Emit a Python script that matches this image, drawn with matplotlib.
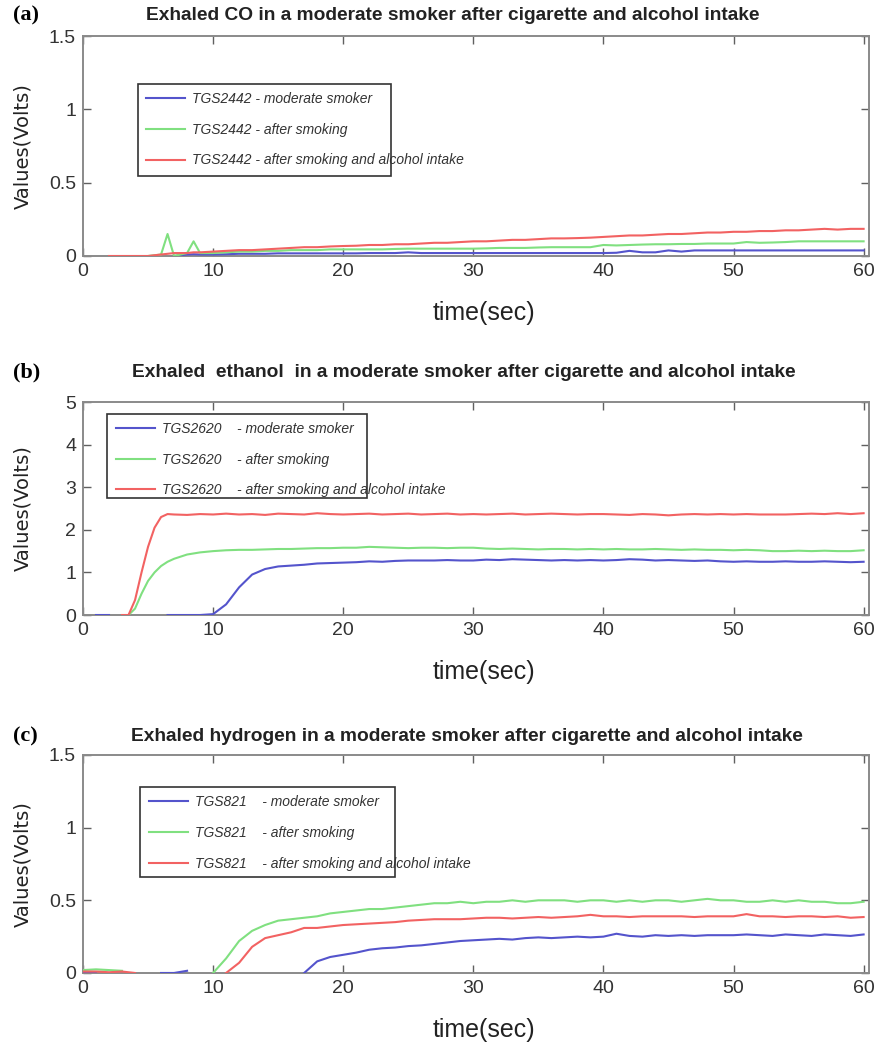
import numpy as np
import matplotlib.pyplot as plt
from matplotlib.patches import Rectangle

nan = np.nan

# ---------------- data ----------------
# (a) exhaled CO, TGS2442
t_a = [0, 1, 2, 3, 4, 5, 6, 6.5, 7, 8, 8.5, 9] + list(range(10, 61))
co_moderate = [nan, nan, nan, nan, nan, nan, nan, nan, 0.0, 0.01, 0.012, 0.01,
               0.01, 0.012, 0.015, 0.015, 0.015, 0.018, 0.018, 0.018, 0.018, 0.018,
               0.018, 0.018, 0.02, 0.02, 0.02, 0.025, 0.02, 0.02, 0.02, 0.02,
               0.02, 0.02, 0.02, 0.02, 0.02, 0.02, 0.02, 0.02, 0.02, 0.02,
               0.02, 0.022, 0.035, 0.025, 0.025, 0.038, 0.03, 0.038, 0.038, 0.038,
               0.038, 0.038, 0.038, 0.038, 0.038, 0.038, 0.038, 0.038, 0.038, 0.038, 0.038]
co_smoking = [0.01, nan, nan, nan, nan, 0.0, 0.01, 0.15, 0.0, 0.02, 0.10, 0.02,
              0.02, 0.025, 0.03, 0.03, 0.035, 0.035, 0.04, 0.04, 0.04, 0.045,
              0.045, 0.045, 0.045, 0.045, 0.048, 0.05, 0.05, 0.05, 0.05, 0.05,
              0.05, 0.052, 0.055, 0.055, 0.055, 0.058, 0.06, 0.06, 0.06, 0.06,
              0.075, 0.072, 0.075, 0.078, 0.08, 0.08, 0.082, 0.082, 0.085, 0.085,
              0.085, 0.095, 0.09, 0.092, 0.095, 0.1, 0.1, 0.1, 0.1, 0.1, 0.1]
co_alcohol = [nan, nan, 0.0, 0.0, 0.0, 0.0, 0.01, 0.015, 0.02, 0.02, 0.025, 0.025,
              0.03, 0.035, 0.04, 0.04, 0.045, 0.05, 0.055, 0.06, 0.06, 0.065,
              0.068, 0.07, 0.075, 0.075, 0.08, 0.08, 0.085, 0.09, 0.09, 0.095,
              0.1, 0.1, 0.105, 0.11, 0.11, 0.115, 0.12, 0.12, 0.122, 0.125,
              0.13, 0.135, 0.14, 0.14, 0.145, 0.15, 0.15, 0.155, 0.16, 0.16,
              0.165, 0.165, 0.17, 0.17, 0.175, 0.175, 0.18, 0.185, 0.18, 0.185, 0.185]

# (b) exhaled ethanol, TGS2620
t_b = [0, 1, 2, 3, 3.5, 4, 4.5, 5, 5.5, 6, 6.5] + list(range(7, 61))
eth_moderate = [nan, 0.0, 0.0, nan, nan, nan, nan, nan, nan, nan, 0.0,
                0.0, 0.0, 0.0, 0.02, 0.25, 0.65, 0.95, 1.08, 1.14, 1.16,
                1.18, 1.21, 1.22, 1.23, 1.24, 1.26, 1.25, 1.27, 1.28, 1.28,
                1.28, 1.29, 1.28, 1.28, 1.3, 1.29, 1.31, 1.3, 1.29, 1.28,
                1.29, 1.28, 1.29, 1.28, 1.29, 1.31, 1.3, 1.28, 1.29, 1.28,
                1.27, 1.28, 1.26, 1.25, 1.26, 1.25, 1.25, 1.26, 1.25, 1.25,
                1.26, 1.25, 1.24, 1.25]
eth_smoking = [0.0, nan, nan, nan, 0.0, 0.15, 0.5, 0.8, 1.0, 1.15, 1.25,
               1.32, 1.42, 1.47, 1.5, 1.52, 1.53, 1.53, 1.54, 1.55, 1.55,
               1.56, 1.57, 1.57, 1.58, 1.58, 1.6, 1.59, 1.58, 1.57, 1.58,
               1.58, 1.57, 1.58, 1.58, 1.56, 1.55, 1.56, 1.55, 1.54, 1.55,
               1.55, 1.54, 1.55, 1.54, 1.55, 1.54, 1.54, 1.55, 1.54, 1.53,
               1.54, 1.53, 1.53, 1.52, 1.53, 1.52, 1.5, 1.5, 1.51, 1.5,
               1.51, 1.5, 1.5, 1.52]
eth_alcohol = [nan, nan, nan, 0.0, 0.0, 0.35, 1.0, 1.6, 2.05, 2.3, 2.37,
               2.36, 2.35, 2.37, 2.36, 2.38, 2.36, 2.37, 2.35, 2.38, 2.37,
               2.36, 2.39, 2.37, 2.36, 2.37, 2.38, 2.36, 2.37, 2.38, 2.36,
               2.37, 2.38, 2.36, 2.37, 2.36, 2.37, 2.38, 2.36, 2.37, 2.38,
               2.37, 2.36, 2.37, 2.37, 2.36, 2.35, 2.37, 2.36, 2.34, 2.36,
               2.37, 2.36, 2.37, 2.36, 2.37, 2.36, 2.36, 2.36, 2.37, 2.38,
               2.37, 2.39, 2.37, 2.39]

# (c) exhaled hydrogen, TGS821
t_c = list(range(0, 61))
h2_moderate = [0.005, 0.0, nan, nan, 0.0, nan, 0.0, 0.0, 0.015, nan,
               nan, nan, nan, nan, nan, nan, nan, 0.0, 0.08, 0.11,
               0.125, 0.14, 0.16, 0.17, 0.175, 0.185, 0.19, 0.2, 0.21, 0.22,
               0.225, 0.23, 0.235, 0.23, 0.24, 0.245, 0.24, 0.245, 0.25, 0.245,
               0.25, 0.27, 0.255, 0.25, 0.26, 0.255, 0.26, 0.255, 0.26, 0.26,
               0.26, 0.265, 0.26, 0.255, 0.265, 0.26, 0.255, 0.265, 0.26, 0.255, 0.265]
h2_smoking = [0.02, 0.025, 0.02, 0.015, nan, nan, nan, nan, nan, nan,
              0.0, 0.1, 0.22, 0.29, 0.33, 0.36, 0.37, 0.38, 0.39, 0.41,
              0.42, 0.43, 0.44, 0.44, 0.45, 0.46, 0.47, 0.48, 0.48, 0.49,
              0.48, 0.49, 0.49, 0.5, 0.49, 0.5, 0.5, 0.5, 0.49, 0.5,
              0.5, 0.49, 0.5, 0.49, 0.5, 0.5, 0.49, 0.5, 0.51, 0.5,
              0.5, 0.49, 0.49, 0.5, 0.49, 0.5, 0.49, 0.49, 0.48, 0.48, 0.49]
h2_alcohol = [0.01, 0.01, 0.005, 0.01, 0.0, nan, nan, nan, nan, nan,
              nan, 0.0, 0.07, 0.18, 0.24, 0.26, 0.28, 0.31, 0.31, 0.32,
              0.33, 0.335, 0.34, 0.345, 0.35, 0.36, 0.365, 0.37, 0.37, 0.37,
              0.375, 0.38, 0.38, 0.375, 0.38, 0.385, 0.38, 0.385, 0.39, 0.4,
              0.39, 0.39, 0.385, 0.39, 0.39, 0.39, 0.39, 0.385, 0.39, 0.39,
              0.39, 0.405, 0.39, 0.39, 0.385, 0.39, 0.39, 0.385, 0.39, 0.38, 0.385]

panel_tags = ['(a)', '(b)', '(c)']
titles = ['Exhaled CO in a moderate smoker after cigarette and alcohol intake',
          'Exhaled  ethanol  in a moderate smoker after cigarette and alcohol intake',
          'Exhaled hydrogen in a moderate smoker after cigarette and alcohol intake']
legend_a = ['TGS2442 - moderate smoker', 'TGS2442 - after smoking',
            'TGS2442 - after smoking and alcohol intake']
legend_b = ['TGS2620    - moderate smoker', 'TGS2620    - after smoking',
            'TGS2620    - after smoking and alcohol intake']
legend_c = ['TGS821    - moderate smoker', 'TGS821    - after smoking',
            'TGS821    - after smoking and alcohol intake']
yticks_a = [0, 0.5, 1, 1.5]
yticks_b = [0, 1, 2, 3, 4, 5]
yticks_c = [0, 0.5, 1, 1.5]
xticks = [0, 10, 20, 30, 40, 50, 60]

colors = ['#5454cc', '#80e080', '#f26262']
sans = ['Liberation Sans', 'DejaVu Sans']

fig = plt.figure(figsize=(8.8, 10.47), dpi=100)

# axes rect, legend frame (x, y, w, h in axes fraction)
panels = [
    (t_a, [co_moderate, co_smoking, co_alcohol], legend_a, yticks_a, 1.5,
     [0.0943, 0.7555, 0.893, 0.2101], (0.0695, 0.365, 0.323, 0.417)),
    (t_b, [eth_moderate, eth_smoking, eth_alcohol], legend_b, yticks_b, 5,
     [0.0943, 0.4126, 0.893, 0.2034], (0.031, 0.55, 0.331, 0.395)),
    (t_c, [h2_moderate, h2_smoking, h2_alcohol], legend_c, yticks_c, 1.5,
     [0.0943, 0.0707, 0.893, 0.2082], (0.073, 0.44, 0.324, 0.413)),
]
tag_y = [0.985, 0.644, 0.297]
title_x = [0.514, 0.527, 0.531]

for i, (t, series, labels, yt, ymax, pos, box) in enumerate(panels):
    ax = fig.add_axes(pos)
    for s, c, lab in zip(series, colors, labels):
        ax.plot(t, s, color=c, lw=1.5, label=lab, zorder=3)
    ax.set_xlim(0, 60.4)
    ax.set_ylim(0, ymax)
    ax.set_xticks(xticks)
    ax.set_yticks(yt)
    ax.set_xticklabels([str(v) for v in xticks], family=sans, fontsize=14)
    ax.set_yticklabels([f'{v:g}' for v in yt], family=sans, fontsize=14)
    ax.tick_params(direction='in', length=6, width=1, color='#606060',
                   top=True, right=True, pad=5, labelcolor='#333333')
    for sp in ax.spines.values():
        sp.set_color('#8a8a8a')
        sp.set_linewidth(1.4)
    ax.set_xlabel('time(sec)', family=sans, fontsize=18, color='#222222')
    ax.xaxis.label.set_va('center')
    ax.xaxis.set_label_coords(0.51, -57 / (pos[3] * 1047))
    ax.set_ylabel('Values(Volts)', fontsize=14, color='#222222')
    ax.yaxis.label.set_va('center')
    ax.yaxis.set_label_coords(-0.076, 0.5)

    # legend frame drawn separately (labels spill past it in the original)
    ax.add_patch(Rectangle((box[0], box[1]), box[2], box[3], transform=ax.transAxes,
                           fill=True, facecolor='white', edgecolor='#333333',
                           lw=1.2, zorder=4))
    leg = ax.legend(loc='upper left',
                    bbox_to_anchor=(box[0] + 0.004, box[1] + box[3] - 0.012),
                    frameon=False,
                    prop={'family': 'Liberation Sans', 'style': 'italic', 'size': 10},
                    handlelength=2.8, handletextpad=0.5, labelspacing=1.2,
                    borderaxespad=0)
    leg.set_zorder(5)
    for txt in leg.get_texts():
        txt.set_color('#333333')

    fig.text(0.0148, tag_y[i], panel_tags[i], family='Liberation Serif',
             fontweight='bold', fontsize=16, va='center', ha='left')
    fig.text(title_x[i], tag_y[i], titles[i], family=sans, fontweight='bold',
             fontsize=13.8, va='center', ha='center', color='#222222')

fig.savefig('out.png', dpi=100)
